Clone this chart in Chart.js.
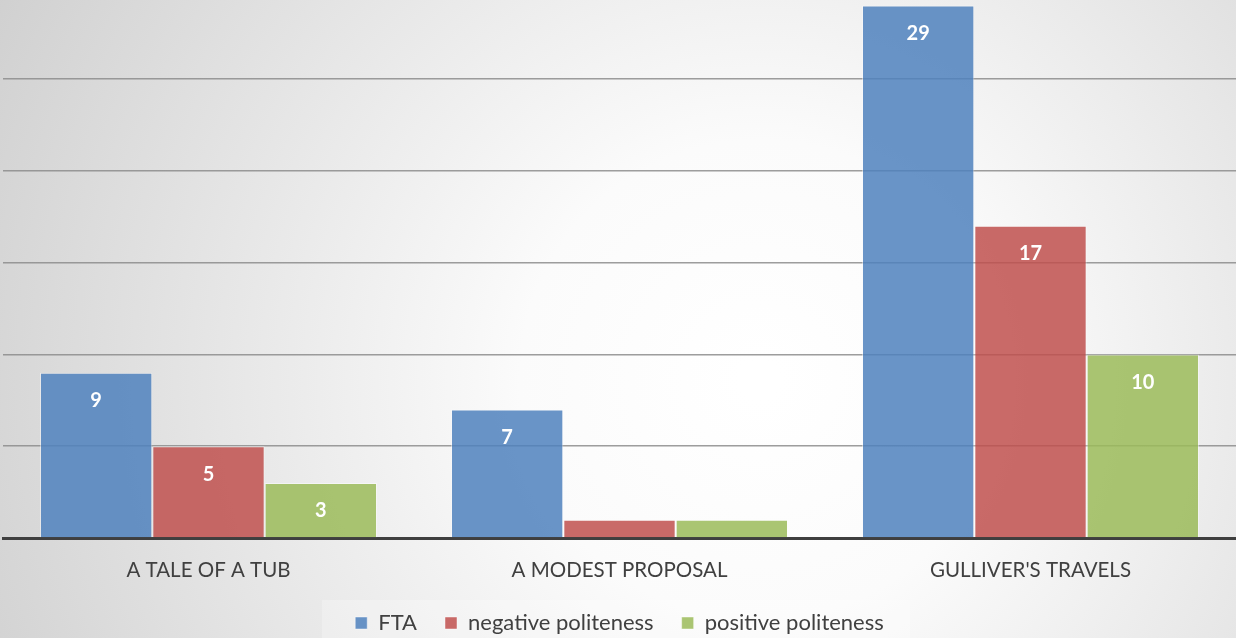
<!DOCTYPE html>
<html>
<head>
<meta charset="utf-8">
<script src="https://cdn.jsdelivr.net/npm/chart.js@4.4.1/dist/chart.umd.min.js"></script>
<style>
  html, body { margin: 0; padding: 0; background: #e0e0e0; }
</style>
</head>
<body>
<canvas id="grafico" width="1236" height="638"></canvas>
<script>
const obras = ['A TALE OF A TUB', 'A MODEST PROPOSAL', "GULLIVER'S TRAVELS"];
const fta = [9, 7, 29];
const negativa = [5, 1, 17];
const positiva = [3, 1, 10];

// fondo gris con centro claro
const fondo = {
  id: 'fondo',
  beforeDraw(chart) {
    const ctx = chart.ctx;
    const g = ctx.createRadialGradient(760, 380, 20, 760, 380, 900);
    g.addColorStop(0, '#ffffff');
    g.addColorStop(0.25, '#fbfbfb');
    g.addColorStop(1, '#cdcdcd');
    ctx.save();
    ctx.fillStyle = g;
    ctx.fillRect(0, 0, chart.width, chart.height);
    // recuadro de la leyenda
    ctx.fillStyle = 'rgba(255,255,255,0.25)';
    ctx.fillRect(322, 600, 588, 38);
    ctx.restore();
  }
};

// etiquetas blancas dentro de cada barra
const etiquetas = {
  id: 'etiquetas',
  afterDatasetsDraw(chart) {
    const ctx = chart.ctx;
    ctx.save();
    ctx.fillStyle = '#ffffff';
    ctx.font = 'bold 20px Lato';
    ctx.textAlign = 'center';
    ctx.textBaseline = 'middle';
    chart.data.datasets.forEach((ds, i) => {
      chart.getDatasetMeta(i).data.forEach((bar, j) => {
        const v = ds.data[j];
        if (v < 2) return;
        ctx.fillText(v, bar.x, bar.y + 28);
      });
    });
    ctx.restore();
  }
};

const canvas = document.getElementById('grafico');
const grafico = new Chart(canvas, {
  type: 'bar',
  data: {
    labels: obras,
    datasets: [
      { label: 'FTA', data: fta, backgroundColor: 'rgba(79,129,189,0.85)' },
      { label: 'negative politeness', data: negativa, backgroundColor: 'rgba(192,80,77,0.85)' },
      { label: 'positive politeness', data: positiva, backgroundColor: 'rgba(155,187,89,0.85)' }
    ]
  },
  options: {
    responsive: false,
    animation: false,
    devicePixelRatio: 1,
    layout: { padding: { left: 3, right: 0, top: 0, bottom: -6 } },
    datasets: {
      bar: {
        categoryPercentage: 0.82,
        barPercentage: 1.0,
        borderColor: 'rgba(255,255,255,0.45)',
        borderWidth: 1
      }
    },
    scales: {
      x: {
        afterFit: s => { s.height = 46; },
        grid: { display: false, drawTicks: false },
        border: { display: true, color: '#3f3f3f', width: 3 },
        ticks: { color: '#404040', font: { family: 'Lato', size: 20.5 }, padding: 20, maxRotation: 0 }
      },
      y: {
        min: 0,
        max: 29.3,
        ticks: { display: false, stepSize: 5 },
        border: { display: false },
        grid: {
          drawTicks: false,
          lineWidth: 1.5,
          color: c => (c.tick.value > 0 && c.tick.value % 5 === 0) ? 'rgba(140,140,140,0.85)' : 'rgba(0,0,0,0)'
        }
      }
    },
    plugins: {
      legend: {
        position: 'bottom',
        labels: {
          color: '#404040',
          font: { family: 'Lato', size: 22 },
          boxWidth: 12,
          boxHeight: 12,
          padding: 28
        }
      },
      tooltip: { enabled: false }
    }
  },
  plugins: [fondo, etiquetas]
});
</script>
</body>
</html>
